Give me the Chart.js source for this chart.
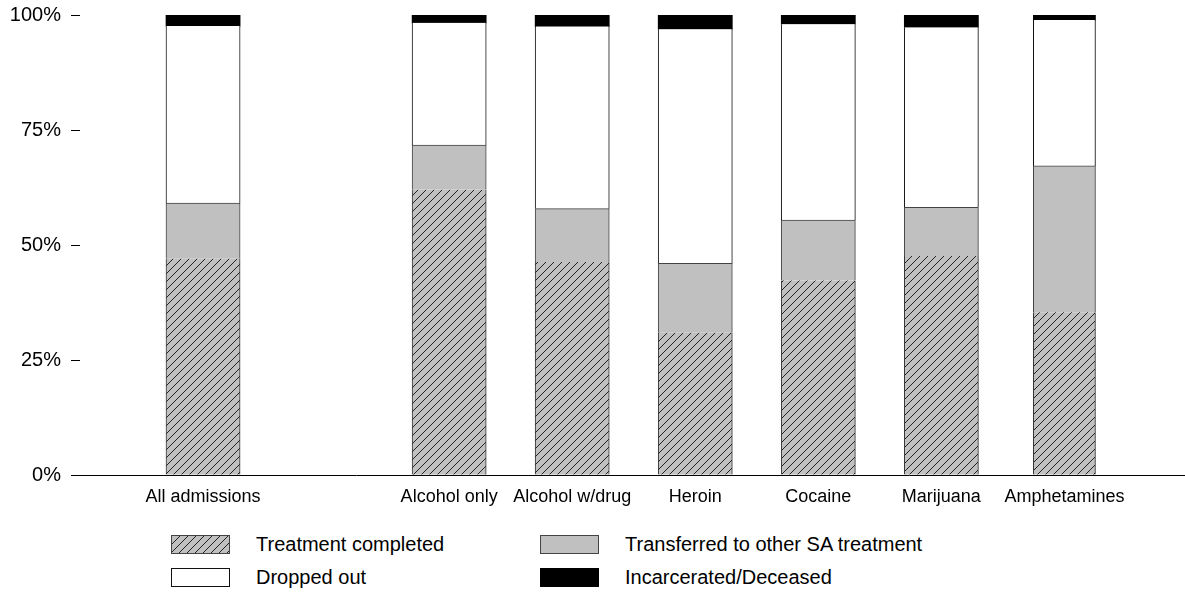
<!DOCTYPE html>
<html>
<head>
<meta charset="utf-8">
<script src="https://cdn.jsdelivr.net/npm/chart.js@4/dist/chart.umd.min.js"></script>
<style>
  body { margin:0; background:#fff; font-family:'Liberation Sans', Arial, sans-serif; }
  #wrap { position:relative; width:1185px; height:594px; }
  #chartBox { position:absolute; left:0; top:0; width:1185px; height:520px; }
  #legend { position:absolute; left:171px; top:535px; display:grid; grid-template-columns:369px auto; row-gap:14px; }
  .item { display:flex; align-items:center; height:19px; font-size:20px; color:#000; white-space:nowrap; }
  .swatch { width:59px; height:19px; box-sizing:border-box; margin-right:26px; }
</style>
</head>
<body>
<div id="wrap">
  <div id="chartBox"><canvas id="c"></canvas></div>
  <div id="legend"></div>
</div>
<script>
// Percent of discharges by reason, per primary substance (slot 1 is an empty spacer)
const categories   = ['All admissions', '', 'Alcohol only', 'Alcohol w/drug', 'Heroin', 'Cocaine', 'Marijuana', 'Amphetamines'];
const completed    = [47.0, null, 62.0, 46.3, 30.9, 42.3, 47.6, 35.4];
const transferred  = [12.1, null,  9.7, 11.6, 15.1, 13.1, 10.6, 31.8];
const droppedOut   = [38.5, null, 26.6, 39.6, 50.9, 42.6, 39.1, 31.7];
const incarcerated = [ 2.4, null,  1.7,  2.5,  3.1,  2.0,  2.7,  1.1];
const yTicks = [0, 25, 50, 75, 100];

// bar widths in px (the amphetamines bar is drawn a bit narrower in the original)
const barWidth = [74, 74, 74, 74, 74, 74, 74, 62];

// diagonal hatch on light grey
function makeHatch() {
  const t = document.createElement('canvas');
  t.width = 8; t.height = 8;
  const g = t.getContext('2d');
  g.fillStyle = '#c0c0c0';
  g.fillRect(0, 0, 8, 8);
  g.strokeStyle = '#222';
  g.lineWidth = 1;
  g.beginPath();
  g.moveTo(-2, 10); g.lineTo(10, -2);
  g.moveTo(-6, 6);  g.lineTo(6, -6);
  g.moveTo(2, 14);  g.lineTo(14, 2);
  g.stroke();
  return t;
}
const hatchTile = makeHatch();
const hatch = document.getElementById('c').getContext('2d').createPattern(hatchTile, 'repeat');

const series = [
  { label:'Treatment completed',               data:completed,    fill:hatch,     border:'#333', bw:{left:1,right:1,top:0,bottom:0},
    swatch:`url(${hatchTile.toDataURL()})`, swatchBorder:'1px solid #444' },
  { label:'Transferred to other SA treatment', data:transferred,  fill:'#c0c0c0', border:'#444', bw:{left:1,right:1,top:1,bottom:0},
    swatch:'#c0c0c0', swatchBorder:'1px solid #444' },
  { label:'Dropped out',                       data:droppedOut,   fill:'#ffffff', border:'#111', bw:{left:1,right:1,top:0,bottom:0},
    swatch:'#ffffff', swatchBorder:'1px solid #111' },
  { label:'Incarcerated/Deceased',             data:incarcerated, fill:'#000000', border:'#000', bw:0,
    swatch:'#000000', swatchBorder:'none' },
];

// one dataset per (series, bar width) so the narrower bar keeps its own thickness
const datasets = [];
[...new Set(barWidth)].forEach(w => series.forEach(s => {
  datasets.push({
    label: s.label,
    data: categories.map((c, i) => ({ x:i, y:s.data[i] }))
                    .filter((p, i) => p.y != null && barWidth[i] === w),
    backgroundColor: s.fill,
    borderColor: s.border,
    borderWidth: s.bw,
    borderSkipped: false,
    inflateAmount: 0.4,
    barThickness: w,
    stack: 'all'
  });
}));

const legendEl = document.getElementById('legend');
legendEl.innerHTML = series.map(s =>
  `<div class="item"><span class="swatch" style="background:${s.swatch};border:${s.swatchBorder}"></span><span>${s.label}</span></div>`
).join('');

const font = "'Liberation Sans', Arial, sans-serif";

new Chart(document.getElementById('c'), {
  type: 'bar',
  data: { datasets },
  options: {
    responsive: true,
    maintainAspectRatio: false,
    animation: false,
    layout: { padding: { top:15, right:0, bottom:0, left:0 } },
    plugins: { legend: { display:false }, tooltip: { enabled:true } },
    scales: {
      x: {
        type: 'linear',
        stacked: true,
        offset: false,
        bounds: 'data',
        min: -1,
        max: 7.98,
        afterFit: s => { s.height = 45; s.paddingLeft = 0; s.paddingRight = 0; },
        grid: { display:false, offset:false },
        border: { display:true, color:'#000', width:1 },
        ticks: {
          stepSize: 1,
          autoSkip: false,
          maxRotation: 0,
          color: '#000',
          padding: 3,
          font: { family:font, size:18 },
          callback: v => categories[v] ?? ''
        }
      },
      y: {
        stacked: true,
        min: 0,
        max: 100,
        afterFit: s => { s.width = 80; s.paddingTop = 0; s.paddingBottom = 0; },
        afterBuildTicks: s => { s.ticks = yTicks.map(v => ({ value:v })); },
        grid: { display:true, drawOnChartArea:false, drawTicks:true, tickLength:9, color:'#000', lineWidth:1 },
        border: { display:false },
        ticks: {
          color: '#000',
          padding: 10,
          font: { family:font, size:20 },
          callback: v => v + '%'
        }
      }
    }
  }
});
</script>
</body>
</html>
